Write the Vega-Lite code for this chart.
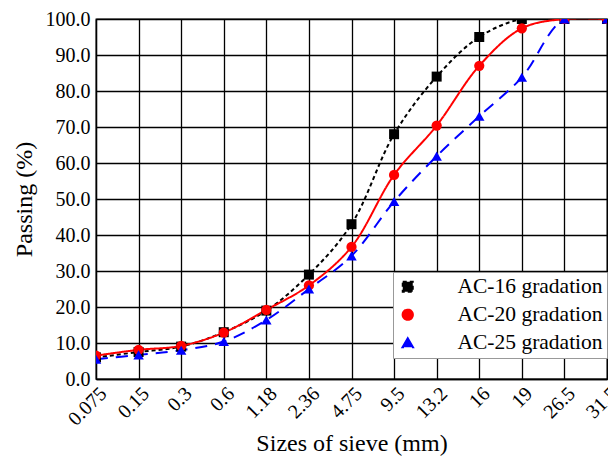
{
  "$schema": "https://vega.github.io/schema/vega-lite/v6.json",
  "width": 511,
  "height": 360,
  "autosize": {"type": "none"},
  "padding": {"left": 96, "top": 19, "right": 1, "bottom": 83},
  "background": "white",
  "config": {
    "font": "Liberation Serif",
    "view": {"stroke": "black", "strokeWidth": 1.3},
    "axis": {
      "labelFont": "Liberation Serif",
      "titleFont": "Liberation Serif",
      "labelFontSize": 20,
      "titleFontSize": 24,
      "titleFontWeight": "normal",
      "labelColor": "black",
      "titleColor": "black",
      "grid": true,
      "gridColor": "black",
      "gridOpacity": 1,
      "gridWidth": 1.3,
      "domainColor": "black",
      "domainWidth": 1.3,
      "ticks": false
    }
  },
  "data": {
    "values": [
      {"size": "0.075", "series": "AC-16 gradation", "passing": 6.0},
      {"size": "0.15", "series": "AC-16 gradation", "passing": 7.5},
      {"size": "0.3", "series": "AC-16 gradation", "passing": 9.0},
      {"size": "0.6", "series": "AC-16 gradation", "passing": 13.0},
      {"size": "1.18", "series": "AC-16 gradation", "passing": 19.0},
      {"size": "2.36", "series": "AC-16 gradation", "passing": 29.0},
      {"size": "4.75", "series": "AC-16 gradation", "passing": 43.0},
      {"size": "9.5", "series": "AC-16 gradation", "passing": 68.0},
      {"size": "13.2", "series": "AC-16 gradation", "passing": 84.0},
      {"size": "16", "series": "AC-16 gradation", "passing": 95.0},
      {"size": "19", "series": "AC-16 gradation", "passing": 100.0},
      {"size": "26.5", "series": "AC-16 gradation", "passing": 100.0},
      {"size": "31.5", "series": "AC-16 gradation", "passing": 100.0},
      {"size": "0.075", "series": "AC-20 gradation", "passing": 6.5},
      {"size": "0.15", "series": "AC-20 gradation", "passing": 8.1},
      {"size": "0.3", "series": "AC-20 gradation", "passing": 9.2},
      {"size": "0.6", "series": "AC-20 gradation", "passing": 12.9},
      {"size": "1.18", "series": "AC-20 gradation", "passing": 19.2},
      {"size": "2.36", "series": "AC-20 gradation", "passing": 26.0},
      {"size": "4.75", "series": "AC-20 gradation", "passing": 36.7},
      {"size": "9.5", "series": "AC-20 gradation", "passing": 56.7},
      {"size": "13.2", "series": "AC-20 gradation", "passing": 70.4},
      {"size": "16", "series": "AC-20 gradation", "passing": 87.0},
      {"size": "19", "series": "AC-20 gradation", "passing": 97.4},
      {"size": "26.5", "series": "AC-20 gradation", "passing": 100.0},
      {"size": "31.5", "series": "AC-20 gradation", "passing": 100.0},
      {"size": "0.075", "series": "AC-25 gradation", "passing": 5.5},
      {"size": "0.15", "series": "AC-25 gradation", "passing": 6.7},
      {"size": "0.3", "series": "AC-25 gradation", "passing": 8.0},
      {"size": "0.6", "series": "AC-25 gradation", "passing": 10.4},
      {"size": "1.18", "series": "AC-25 gradation", "passing": 16.4},
      {"size": "2.36", "series": "AC-25 gradation", "passing": 25.0},
      {"size": "4.75", "series": "AC-25 gradation", "passing": 34.2},
      {"size": "9.5", "series": "AC-25 gradation", "passing": 49.3},
      {"size": "13.2", "series": "AC-25 gradation", "passing": 61.9},
      {"size": "16", "series": "AC-25 gradation", "passing": 73.0},
      {"size": "19", "series": "AC-25 gradation", "passing": 83.8},
      {"size": "26.5", "series": "AC-25 gradation", "passing": 100.0},
      {"size": "31.5", "series": "AC-25 gradation", "passing": 100.0}
    ]
  },
  "encoding": {
    "x": {
      "field": "size",
      "type": "ordinal",
      "sort": ["0.075", "0.15", "0.3", "0.6", "1.18", "2.36", "4.75", "9.5", "13.2", "16", "19", "26.5", "31.5"],
      "scale": {"type": "point", "padding": 0},
      "axis": {"title": "Sizes of sieve (mm)", "labelAngle": -45, "labelPadding": 4, "titlePadding": 3}
    },
    "y": {
      "field": "passing",
      "type": "quantitative",
      "scale": {"domain": [0, 100], "nice": false},
      "axis": {"title": "Passing (%)", "values": [0, 10, 20, 30, 40, 50, 60, 70, 80, 90, 100], "format": ".1f", "labelPadding": 6, "titlePadding": 9}
    }
  },
  "layer": [
    {
      "mark": {"type": "line", "interpolate": "catmull-rom", "strokeWidth": 2, "clip": true},
      "encoding": {
        "color": {
          "field": "series",
          "type": "nominal",
          "scale": {"domain": ["AC-16 gradation", "AC-20 gradation", "AC-25 gradation"], "range": ["#000000", "#ff0000", "#0000ff"]}
        },
        "strokeDash": {
          "field": "series",
          "type": "nominal",
          "scale": {"domain": ["AC-16 gradation", "AC-20 gradation", "AC-25 gradation"], "range": [[4, 3], [1, 0], [12, 8]]},
          "legend": null
        }
      }
    },
    {
      "mark": {"type": "point", "filled": true, "opacity": 1, "clip": true},
      "encoding": {
        "color": {
          "field": "series",
          "type": "nominal",
          "scale": {"domain": ["AC-16 gradation", "AC-20 gradation", "AC-25 gradation"], "range": ["#000000", "#ff0000", "#0000ff"]},
          "legend": {
            "title": null,
            "orient": "none",
            "legendX": 297,
            "legendY": 253,
            "fillColor": "white",
            "strokeColor": "#999999",
            "padding": 4,
            "labelFont": "Liberation Serif",
            "labelFontSize": 21.5,
            "labelColor": "black",
            "labelOffset": 39,
            "labelLimit": 300,
            "rowPadding": 5,
            "symbolSize": 100,
            "symbolStrokeWidth": 2
          }
        },
        "shape": {
          "field": "series",
          "type": "nominal",
          "scale": {"domain": ["AC-16 gradation", "AC-20 gradation", "AC-25 gradation"], "range": ["square", "circle", "triangle-up"]},
          "legend": null
        },
        "size": {
          "field": "series",
          "type": "nominal",
          "scale": {"domain": ["AC-16 gradation", "AC-20 gradation", "AC-25 gradation"], "range": [100, 110, 110]},
          "legend": null
        }
      }
    }
  ]
}
